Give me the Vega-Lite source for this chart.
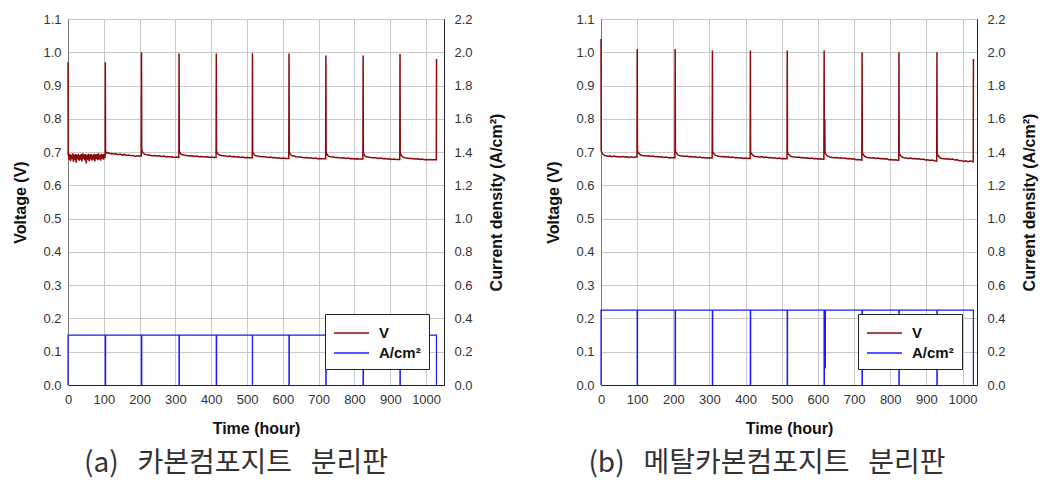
{
"$schema":"https://vega.github.io/schema/vega-lite/v6.json",
"padding":{"left":12,"top":12,"right":5,"bottom":5},
"spacing":40,
"datasets":{
"va":[{"t":0,"v":0.97},{"t":0.5,"v":0.69},{"t":1,"v":0.694},{"t":3,"v":0.677},{"t":5,"v":0.695},{"t":7,"v":0.673},{"t":9,"v":0.692},{"t":11,"v":0.679},{"t":13,"v":0.696},{"t":15,"v":0.671},{"t":17,"v":0.693},{"t":19,"v":0.676},{"t":21,"v":0.694},{"t":23,"v":0.668},{"t":25,"v":0.692},{"t":27,"v":0.678},{"t":29,"v":0.695},{"t":31,"v":0.674},{"t":33,"v":0.691},{"t":35,"v":0.677},{"t":37,"v":0.694},{"t":39,"v":0.672},{"t":41,"v":0.696},{"t":43,"v":0.679},{"t":45,"v":0.693},{"t":47,"v":0.675},{"t":49,"v":0.694},{"t":51,"v":0.666},{"t":53,"v":0.692},{"t":55,"v":0.677},{"t":57,"v":0.695},{"t":59,"v":0.673},{"t":61,"v":0.693},{"t":63,"v":0.678},{"t":65,"v":0.694},{"t":67,"v":0.674},{"t":69,"v":0.691},{"t":71,"v":0.677},{"t":73,"v":0.695},{"t":75,"v":0.672},{"t":77,"v":0.693},{"t":79,"v":0.679},{"t":81,"v":0.694},{"t":83,"v":0.676},{"t":85,"v":0.696},{"t":87,"v":0.678},{"t":89,"v":0.692},{"t":91,"v":0.674},{"t":93,"v":0.695},{"t":95,"v":0.68},{"t":97,"v":0.693},{"t":99,"v":0.677},{"t":101,"v":0.695},{"t":103,"v":0.682},{"t":103.8,"v":0.69},
{"t":104.2,"v":0.97},{"t":104.8,"v":0.705},{"t":106,"v":0.699},{"t":109,"v":0.697},{"t":113,"v":0.698},{"t":118,"v":0.695},{"t":123,"v":0.696},{"t":128,"v":0.694},{"t":134,"v":0.695},{"t":140,"v":0.692},{"t":146,"v":0.694},{"t":152,"v":0.691},{"t":158,"v":0.693},{"t":164,"v":0.69},{"t":170,"v":0.691},{"t":176,"v":0.689},{"t":182,"v":0.69},{"t":188,"v":0.687},{"t":194,"v":0.689},{"t":200,"v":0.688},{"t":204.5,"v":0.688},
{"t":205.2,"v":1.0},{"t":205.8,"v":0.708},{"t":207,"v":0.703},{"t":210,"v":0.697},{"t":214,"v":0.694},{"t":219,"v":0.692},{"t":225,"v":0.691},{"t":231,"v":0.69},{"t":237,"v":0.689},{"t":243,"v":0.69},{"t":249,"v":0.688},{"t":255,"v":0.689},{"t":261,"v":0.687},{"t":267,"v":0.688},{"t":273,"v":0.686},{"t":279,"v":0.687},{"t":285,"v":0.685},{"t":291,"v":0.686},{"t":297,"v":0.684},{"t":303,"v":0.685},{"t":309.5,"v":0.684},
{"t":310.2,"v":0.996},{"t":310.8,"v":0.704},{"t":312,"v":0.7},{"t":315,"v":0.695},{"t":319,"v":0.692},{"t":324,"v":0.691},{"t":330,"v":0.69},{"t":336,"v":0.689},{"t":342,"v":0.688},{"t":348,"v":0.689},{"t":354,"v":0.687},{"t":360,"v":0.688},{"t":366,"v":0.686},{"t":372,"v":0.687},{"t":378,"v":0.686},{"t":384,"v":0.685},{"t":390,"v":0.686},{"t":396,"v":0.684},{"t":402,"v":0.685},{"t":408,"v":0.684},{"t":413.5,"v":0.684},
{"t":414.2,"v":0.996},{"t":414.8,"v":0.703},{"t":416,"v":0.699},{"t":419,"v":0.694},{"t":423,"v":0.691},{"t":428,"v":0.69},{"t":434,"v":0.689},{"t":440,"v":0.688},{"t":446,"v":0.687},{"t":452,"v":0.688},{"t":458,"v":0.686},{"t":464,"v":0.687},{"t":470,"v":0.685},{"t":476,"v":0.686},{"t":482,"v":0.684},{"t":488,"v":0.685},{"t":494,"v":0.683},{"t":500,"v":0.684},{"t":506,"v":0.683},{"t":514.5,"v":0.683},
{"t":515.2,"v":0.997},{"t":515.8,"v":0.702},{"t":517,"v":0.698},{"t":520,"v":0.692},{"t":524,"v":0.689},{"t":529,"v":0.688},{"t":535,"v":0.687},{"t":541,"v":0.686},{"t":547,"v":0.686},{"t":553,"v":0.685},{"t":559,"v":0.684},{"t":565,"v":0.685},{"t":571,"v":0.683},{"t":577,"v":0.684},{"t":583,"v":0.682},{"t":589,"v":0.683},{"t":595,"v":0.681},{"t":601,"v":0.682},{"t":607,"v":0.681},{"t":616.5,"v":0.681},
{"t":617.2,"v":0.996},{"t":617.8,"v":0.702},{"t":619,"v":0.697},{"t":622,"v":0.692},{"t":626,"v":0.689},{"t":631,"v":0.688},{"t":637,"v":0.686},{"t":643,"v":0.685},{"t":649,"v":0.685},{"t":655,"v":0.684},{"t":661,"v":0.683},{"t":667,"v":0.684},{"t":673,"v":0.682},{"t":679,"v":0.683},{"t":685,"v":0.681},{"t":691,"v":0.682},{"t":697,"v":0.68},{"t":703,"v":0.681},{"t":709,"v":0.68},{"t":719.5,"v":0.68},
{"t":720.2,"v":0.99},{"t":720.8,"v":0.7},{"t":722,"v":0.696},{"t":725,"v":0.69},{"t":729,"v":0.687},{"t":734,"v":0.686},{"t":740,"v":0.685},{"t":746,"v":0.684},{"t":752,"v":0.684},{"t":758,"v":0.683},{"t":764,"v":0.682},{"t":770,"v":0.683},{"t":776,"v":0.681},{"t":782,"v":0.682},{"t":788,"v":0.68},{"t":794,"v":0.681},{"t":800,"v":0.679},{"t":806,"v":0.68},{"t":812,"v":0.679},{"t":823.5,"v":0.679},
{"t":824.2,"v":0.99},{"t":824.8,"v":0.7},{"t":826,"v":0.695},{"t":829,"v":0.689},{"t":833,"v":0.686},{"t":838,"v":0.685},{"t":844,"v":0.684},{"t":850,"v":0.683},{"t":856,"v":0.683},{"t":862,"v":0.682},{"t":868,"v":0.681},{"t":874,"v":0.682},{"t":880,"v":0.68},{"t":886,"v":0.681},{"t":892,"v":0.679},{"t":898,"v":0.68},{"t":904,"v":0.678},{"t":910,"v":0.679},{"t":916,"v":0.678},{"t":926.5,"v":0.678},
{"t":927.2,"v":0.995},{"t":927.8,"v":0.699},{"t":929,"v":0.694},{"t":932,"v":0.688},{"t":936,"v":0.685},{"t":941,"v":0.683},{"t":947,"v":0.682},{"t":953,"v":0.681},{"t":959,"v":0.681},{"t":965,"v":0.68},{"t":971,"v":0.679},{"t":977,"v":0.68},{"t":983,"v":0.678},{"t":989,"v":0.679},{"t":995,"v":0.677},{"t":1001,"v":0.678},{"t":1007,"v":0.677},{"t":1013,"v":0.678},{"t":1019,"v":0.677},{"t":1028.5,"v":0.677},{"t":1029.2,"v":0.98}],
"ja":[{"t":0,"j":0},{"t":0.01,"j":0.3},{"t":103.99,"j":0.3},{"t":104,"j":0},{"t":105,"j":0},{"t":105.01,"j":0.3},{"t":204.99,"j":0.3},{"t":205,"j":0},{"t":206,"j":0},{"t":206.01,"j":0.3},{"t":309.99,"j":0.3},{"t":310,"j":0},{"t":311,"j":0},{"t":311.01,"j":0.3},{"t":413.99,"j":0.3},{"t":414,"j":0},{"t":415,"j":0},{"t":415.01,"j":0.3},{"t":514.99,"j":0.3},{"t":515,"j":0},{"t":515.3,"j":0},{"t":515.31,"j":0.3},{"t":616.99,"j":0.3},{"t":617,"j":0},{"t":618,"j":0},{"t":618.01,"j":0.3},{"t":719.99,"j":0.3},{"t":720,"j":0},{"t":721,"j":0},{"t":721.01,"j":0.3},{"t":823.99,"j":0.3},{"t":824,"j":0},{"t":825,"j":0},{"t":825.01,"j":0.3},{"t":926.99,"j":0.3},{"t":927,"j":0},{"t":928,"j":0},{"t":928.01,"j":0.3},{"t":1028.99,"j":0.3},{"t":1029,"j":0}],
"vb":[{"t":0,"v":1.04},{"t":0.5,"v":0.705},{"t":2,"v":0.698},{"t":5,"v":0.694},{"t":9,"v":0.69},{"t":14,"v":0.689},{"t":19,"v":0.687},{"t":24,"v":0.689},{"t":30,"v":0.686},{"t":36,"v":0.688},{"t":42,"v":0.686},{"t":48,"v":0.687},{"t":54,"v":0.685},{"t":60,"v":0.687},{"t":66,"v":0.685},{"t":72,"v":0.686},{"t":78,"v":0.684},{"t":84,"v":0.686},{"t":90,"v":0.684},{"t":96,"v":0.685},{"t":99.5,"v":0.685},
{"t":100.2,"v":1.01},{"t":100.8,"v":0.705},{"t":102,"v":0.7},{"t":105,"v":0.696},{"t":109,"v":0.692},{"t":114,"v":0.69},{"t":120,"v":0.689},{"t":126,"v":0.688},{"t":132,"v":0.689},{"t":138,"v":0.687},{"t":144,"v":0.688},{"t":150,"v":0.686},{"t":156,"v":0.687},{"t":162,"v":0.685},{"t":168,"v":0.686},{"t":174,"v":0.684},{"t":180,"v":0.685},{"t":186,"v":0.683},{"t":192,"v":0.684},{"t":198,"v":0.683},{"t":204.5,"v":0.683},
{"t":205.2,"v":1.01},{"t":205.8,"v":0.704},{"t":207,"v":0.699},{"t":210,"v":0.695},{"t":214,"v":0.691},{"t":219,"v":0.689},{"t":225,"v":0.688},{"t":231,"v":0.687},{"t":237,"v":0.688},{"t":243,"v":0.686},{"t":249,"v":0.687},{"t":255,"v":0.685},{"t":261,"v":0.686},{"t":267,"v":0.684},{"t":273,"v":0.685},{"t":279,"v":0.683},{"t":285,"v":0.684},{"t":291,"v":0.682},{"t":297,"v":0.683},{"t":303,"v":0.682},{"t":307.5,"v":0.682},
{"t":308.2,"v":1.005},{"t":308.8,"v":0.703},{"t":310,"v":0.698},{"t":313,"v":0.694},{"t":317,"v":0.69},{"t":322,"v":0.688},{"t":328,"v":0.687},{"t":334,"v":0.686},{"t":340,"v":0.687},{"t":346,"v":0.685},{"t":352,"v":0.686},{"t":358,"v":0.684},{"t":364,"v":0.685},{"t":370,"v":0.683},{"t":376,"v":0.684},{"t":382,"v":0.682},{"t":388,"v":0.683},{"t":394,"v":0.681},{"t":400,"v":0.682},{"t":406,"v":0.681},{"t":412.5,"v":0.681},
{"t":413.2,"v":1.005},{"t":413.8,"v":0.702},{"t":415,"v":0.697},{"t":418,"v":0.693},{"t":422,"v":0.689},{"t":427,"v":0.687},{"t":433,"v":0.686},{"t":439,"v":0.685},{"t":445,"v":0.686},{"t":451,"v":0.684},{"t":457,"v":0.685},{"t":463,"v":0.683},{"t":469,"v":0.684},{"t":475,"v":0.682},{"t":481,"v":0.683},{"t":487,"v":0.681},{"t":493,"v":0.682},{"t":499,"v":0.68},{"t":505,"v":0.681},{"t":514.5,"v":0.68},
{"t":515.2,"v":1.005},{"t":515.8,"v":0.701},{"t":517,"v":0.696},{"t":520,"v":0.692},{"t":524,"v":0.688},{"t":529,"v":0.686},{"t":535,"v":0.685},{"t":541,"v":0.684},{"t":547,"v":0.685},{"t":553,"v":0.683},{"t":559,"v":0.684},{"t":565,"v":0.682},{"t":571,"v":0.683},{"t":577,"v":0.681},{"t":583,"v":0.682},{"t":589,"v":0.68},{"t":595,"v":0.681},{"t":601,"v":0.679},{"t":607,"v":0.68},{"t":616.5,"v":0.678},
{"t":617.2,"v":1.005},{"t":617.6,"v":0.8},{"t":619,"v":0.797},{"t":619.6,"v":0.7},{"t":621,"v":0.695},{"t":624,"v":0.691},{"t":628,"v":0.687},{"t":633,"v":0.685},{"t":639,"v":0.684},{"t":645,"v":0.683},{"t":651,"v":0.684},{"t":657,"v":0.682},{"t":663,"v":0.683},{"t":669,"v":0.681},{"t":675,"v":0.682},{"t":681,"v":0.68},{"t":687,"v":0.681},{"t":693,"v":0.679},{"t":699,"v":0.68},{"t":705,"v":0.677},{"t":711,"v":0.678},{"t":721.5,"v":0.676},
{"t":722.2,"v":1.0},{"t":722.8,"v":0.7},{"t":724,"v":0.695},{"t":727,"v":0.69},{"t":731,"v":0.686},{"t":736,"v":0.684},{"t":742,"v":0.683},{"t":748,"v":0.682},{"t":754,"v":0.683},{"t":760,"v":0.681},{"t":766,"v":0.682},{"t":772,"v":0.68},{"t":778,"v":0.681},{"t":784,"v":0.679},{"t":790,"v":0.68},{"t":796,"v":0.677},{"t":802,"v":0.678},{"t":808,"v":0.676},{"t":814,"v":0.677},{"t":823.5,"v":0.675},
{"t":824.2,"v":1.0},{"t":824.8,"v":0.699},{"t":826,"v":0.694},{"t":829,"v":0.689},{"t":833,"v":0.685},{"t":838,"v":0.683},{"t":844,"v":0.682},{"t":850,"v":0.681},{"t":856,"v":0.682},{"t":862,"v":0.68},{"t":868,"v":0.681},{"t":874,"v":0.679},{"t":880,"v":0.68},{"t":886,"v":0.678},{"t":892,"v":0.679},{"t":898,"v":0.676},{"t":904,"v":0.677},{"t":910,"v":0.675},{"t":916,"v":0.676},{"t":922,"v":0.674},{"t":928.5,"v":0.673},
{"t":929.2,"v":1.0},{"t":929.8,"v":0.697},{"t":931,"v":0.692},{"t":934,"v":0.687},{"t":938,"v":0.683},{"t":943,"v":0.681},{"t":949,"v":0.68},{"t":955,"v":0.679},{"t":961,"v":0.68},{"t":967,"v":0.678},{"t":973,"v":0.679},{"t":979,"v":0.676},{"t":985,"v":0.677},{"t":991,"v":0.674},{"t":997,"v":0.675},{"t":1003,"v":0.672},{"t":1009,"v":0.674},{"t":1015,"v":0.671},{"t":1021,"v":0.673},{"t":1029.5,"v":0.671},{"t":1030.2,"v":0.98}],
"jb":[{"t":0,"j":0},{"t":0.01,"j":0.45},{"t":99.99,"j":0.45},{"t":100,"j":0},{"t":101,"j":0},{"t":101.01,"j":0.45},{"t":204.99,"j":0.45},{"t":205,"j":0},{"t":206,"j":0},{"t":206.01,"j":0.45},{"t":307.99,"j":0.45},{"t":308,"j":0},{"t":309,"j":0},{"t":309.01,"j":0.45},{"t":412.99,"j":0.45},{"t":413,"j":0},{"t":414,"j":0},{"t":414.01,"j":0.45},{"t":514.99,"j":0.45},{"t":515,"j":0},{"t":516,"j":0},{"t":516.01,"j":0.45},{"t":616.99,"j":0.45},{"t":617,"j":0},{"t":618,"j":0},{"t":618.01,"j":0.45},{"t":620.49,"j":0.45},{"t":620.5,"j":0.105},{"t":620.8,"j":0.105},{"t":620.81,"j":0.45},{"t":721.99,"j":0.45},{"t":722,"j":0},{"t":723,"j":0},{"t":723.01,"j":0.45},{"t":823.99,"j":0.45},{"t":824,"j":0},{"t":825,"j":0},{"t":825.01,"j":0.45},{"t":928.99,"j":0.45},{"t":929,"j":0},{"t":930,"j":0},{"t":930.01,"j":0.45},{"t":1029.99,"j":0.45},{"t":1030,"j":0}]
},
"config":{
"font":"Liberation Sans",
"view":{"stroke":"#222","strokeWidth":1},
"axis":{"labelFont":"Liberation Sans","labelFontSize":13,"labelColor":"#333","titleFont":"Liberation Sans","titleFontSize":16,"titleFontWeight":"bold","titleColor":"#111","gridColor":"#c8c8c8","gridOpacity":1,"domainColor":"#222","ticks":false},
"axisX":{"labelOverlap":false,"labelFlush":false,"labelSeparation":0},
"title":{"font":"Noto Sans CJK KR","fontSize":28,"fontWeight":"normal","color":"#333","orient":"bottom","anchor":"middle","offset":14},
"legend":{"orient":"none","legendX":257,"legendY":295,"strokeColor":"#222","fillColor":"white","padding":8,"labelFont":"Liberation Sans","labelFontSize":15,"labelFontWeight":"bold","labelColor":"#111","symbolType":"M-1,0H2.5","symbolSize":400,"symbolStrokeWidth":1.5,"labelOffset":24,"rowPadding":1,"title":null}
},
"resolve":{"scale":{"color":"independent"},"legend":{"color":"independent"}},
"hconcat":[
{"width":376,"height":366,
"title":{"text":"(a)\u00a0\u00a0\u00a0카본컴포지트\u00a0\u00a0\u00a0분리판","dx":-20},
"layer":[
{"data":{"name":"va"},"mark":{"type":"line","strokeWidth":1.5},
"encoding":{
"x":{"field":"t","type":"quantitative","scale":{"domain":[0,1050],"nice":false},"axis":{"title":"Time (hour)","values":[0,100,200,300,400,500,600,700,800,900,1000],"format":"d","labelOverlap":false,"labelPadding":8,"titlePadding":14}},
"y":{"field":"v","type":"quantitative","scale":{"domain":[0,1.1],"nice":false},"axis":{"title":"Voltage (V)","values":[0,0.1,0.2,0.3,0.4,0.5,0.6,0.7,0.8,0.9,1.0,1.1],"format":".1f","labelPadding":7,"titlePadding":14,"domainColor":"#777"}},
"color":{"datum":"V","type":"nominal","scale":{"domain":["V","A/cm²"],"range":["#8b0a0a","#1a1aff"]}}}},
{"data":{"name":"ja"},"mark":{"type":"line","strokeWidth":1.2},
"encoding":{
"x":{"field":"t","type":"quantitative","axis":{"title":"Time (hour)","values":[0,100,200,300,400,500,600,700,800,900,1000],"format":"d","labelOverlap":false,"labelPadding":8,"titlePadding":14}},
"y":{"field":"j","type":"quantitative","scale":{"domain":[0,2.2],"nice":false},"axis":{"orient":"right","title":"Current density (A/cm²)","titleAngle":270,"values":[0,0.2,0.4,0.6,0.8,1.0,1.2,1.4,1.6,1.8,2.0,2.2],"format":".1f","grid":false,"labelPadding":10,"titlePadding":32}},
"color":{"datum":"A/cm²","type":"nominal"}}}
],
"resolve":{"scale":{"y":"independent"}}},
{"width":376,"height":366,
"title":{"text":"(b)\u00a0\u00a0\u00a0메탈카본컴포지트\u00a0\u00a0\u00a0분리판","dx":-22},
"layer":[
{"data":{"name":"vb"},"mark":{"type":"line","strokeWidth":1.5},
"encoding":{
"x":{"field":"t","type":"quantitative","scale":{"domain":[0,1040],"nice":false},"axis":{"title":"Time (hour)","values":[0,100,200,300,400,500,600,700,800,900,1000],"format":"d","labelOverlap":false,"labelPadding":8,"titlePadding":14}},
"y":{"field":"v","type":"quantitative","scale":{"domain":[0,1.1],"nice":false},"axis":{"title":"Voltage (V)","values":[0,0.1,0.2,0.3,0.4,0.5,0.6,0.7,0.8,0.9,1.0,1.1],"format":".1f","labelPadding":7,"titlePadding":14,"domainColor":"#777"}},
"color":{"datum":"V","type":"nominal","scale":{"domain":["V","A/cm²"],"range":["#8b0a0a","#1a1aff"]}}}},
{"data":{"name":"jb"},"mark":{"type":"line","strokeWidth":1.2},
"encoding":{
"x":{"field":"t","type":"quantitative","axis":{"title":"Time (hour)","values":[0,100,200,300,400,500,600,700,800,900,1000],"format":"d","labelOverlap":false,"labelPadding":8,"titlePadding":14}},
"y":{"field":"j","type":"quantitative","scale":{"domain":[0,2.2],"nice":false},"axis":{"orient":"right","title":"Current density (A/cm²)","titleAngle":270,"values":[0,0.2,0.4,0.6,0.8,1.0,1.2,1.4,1.6,1.8,2.0,2.2],"format":".1f","grid":false,"labelPadding":10,"titlePadding":32}},
"color":{"datum":"A/cm²","type":"nominal"}}}
],
"resolve":{"scale":{"y":"independent"}}}
]
}
